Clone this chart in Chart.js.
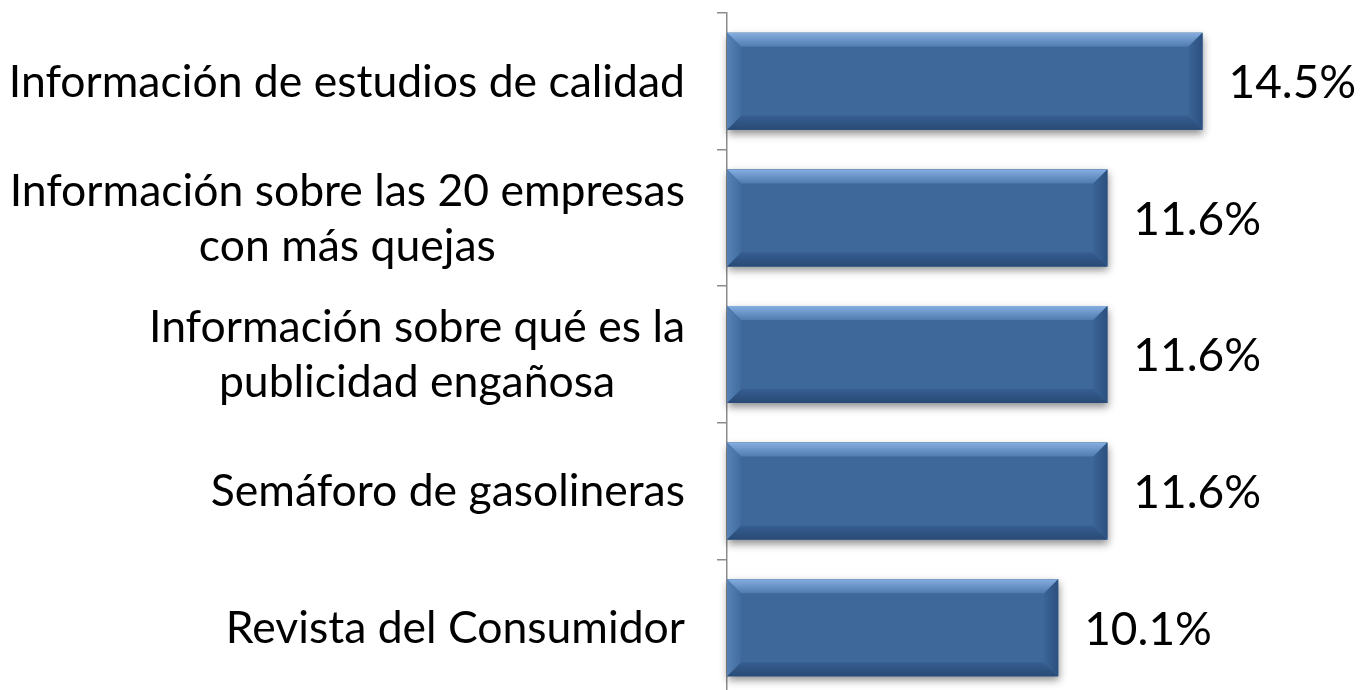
<!DOCTYPE html>
<html>
<head>
<meta charset="utf-8">
<script src="https://cdn.jsdelivr.net/npm/chart.js@4"></script>
<style>
  html, body { margin: 0; padding: 0; background: #fff; overflow: hidden; }
  #wrap { width: 1362px; height: 700px; }
</style>
</head>
<body>
<div id="wrap"><canvas id="chart" width="1362" height="700"></canvas></div>
<script>
/* ===============================
   DATA
================================= */

const categories = [
  ["Información de estudios de calidad"],
  ["Información sobre las 20 empresas", "con más quejas"],
  ["Información sobre qué es la", "publicidad engañosa"],
  ["Semáforo de gasolineras"],
  ["Revista del Consumidor"]
];
const values = [14.5, 11.6, 11.6, 11.6, 10.1];
const valueLabels = ["14.5%", "11.6%", "11.6%", "11.6%", "10.1%"];

const FONT = "Lato, 'Open Sans', sans-serif";

/* ===============================
   PLUGINS
================================= */

// soft shadow under each bar
const barShadow = {
  id: "barShadow",
  beforeDatasetsDraw(chart) {
    const { ctx } = chart;
    const meta = chart.getDatasetMeta(0);
    ctx.save();
    ctx.shadowColor = "rgba(0,0,0,0.45)";
    ctx.shadowBlur = 8;
    ctx.shadowOffsetY = 4;
    ctx.shadowOffsetX = 1;
    ctx.fillStyle = "#3d6899";
    meta.data.forEach(bar => {
      const h = bar.height;
      ctx.fillRect(bar.base, bar.y - h / 2, bar.x - bar.base, h);
    });
    ctx.restore();
  }
};

// bevel edges + value labels
const barBevel = {
  id: "barBevel",
  afterDatasetsDraw(chart) {
    const { ctx } = chart;
    const meta = chart.getDatasetMeta(0);
    const b = 14;
    ctx.save();
    meta.data.forEach((bar, i) => {
      const l = bar.base, r = bar.x;
      const t = bar.y - bar.height / 2, bt = bar.y + bar.height / 2;

      const poly = (pts, fill) => {
        ctx.beginPath();
        ctx.moveTo(pts[0][0], pts[0][1]);
        pts.slice(1).forEach(p => ctx.lineTo(p[0], p[1]));
        ctx.closePath();
        ctx.fillStyle = fill;
        ctx.fill();
      };

      const gTop = ctx.createLinearGradient(0, t, 0, t + b);
      gTop.addColorStop(0, "#86aee0");
      gTop.addColorStop(1, "#4f7bb0");
      poly([[l, t], [r, t], [r - b, t + b], [l + b, t + b]], gTop);

      const gBot = ctx.createLinearGradient(0, bt - b, 0, bt);
      gBot.addColorStop(0, "#365e90");
      gBot.addColorStop(1, "#284a76");
      poly([[l, bt], [r, bt], [r - b, bt - b], [l + b, bt - b]], gBot);

      const gLeft = ctx.createLinearGradient(l, 0, l + b, 0);
      gLeft.addColorStop(0, "#5682b6");
      gLeft.addColorStop(1, "#416ca0");
      poly([[l, t], [l + b, t + b], [l + b, bt - b], [l, bt]], gLeft);

      const gRight = ctx.createLinearGradient(r - b, 0, r, 0);
      gRight.addColorStop(0, "#3a6495");
      gRight.addColorStop(1, "#2c5080");
      poly([[r, t], [r - b, t + b], [r - b, bt - b], [r, bt]], gRight);

      ctx.fillStyle = "#000";
      ctx.font = "46px " + FONT;
      ctx.textAlign = "left";
      ctx.textBaseline = "middle";
      ctx.fillText(valueLabels[i], r + 26, bar.y + 2);
    });
    ctx.restore();
  }
};

// category labels: block right-aligned, lines centered inside block
const categoryLabels = {
  id: "categoryLabels",
  afterDraw(chart) {
    const { ctx } = chart;
    const yScale = chart.scales.y;
    const rightEdge = 685;
    const lineH = 55;
    ctx.save();
    ctx.fillStyle = "#000";
    ctx.font = "44.5px " + FONT;
    ctx.textAlign = "center";
    ctx.textBaseline = "middle";
    categories.forEach((lines, i) => {
      const cy = yScale.getPixelForValue(i);
      const w = Math.max(...lines.map(s => ctx.measureText(s).width));
      const cx = rightEdge - w / 2;
      const y0 = cy - (lines.length - 1) * lineH / 2 + 1;
      lines.forEach((s, k) => ctx.fillText(s, cx, y0 + k * lineH));
    });
    ctx.restore();
  }
};

/* ===============================
   CHART
================================= */

new Chart(document.getElementById("chart"), {
  type: "bar",
  data: {
    labels: categories,
    datasets: [{
      data: values,
      backgroundColor: "#3d6899",
      borderWidth: 0,
      categoryPercentage: 1,
      barPercentage: 0.71
    }]
  },
  options: {
    indexAxis: "y",
    responsive: false,
    animation: false,
    layout: { padding: { top: 13, bottom: 4, left: 0, right: 12 } },
    plugins: {
      legend: { display: false },
      tooltip: { enabled: false }
    },
    scales: {
      x: { display: false, min: 0, max: 19 },
      y: {
        afterFit(scale) { scale.width = 727; },
        ticks: { display: false },
        grid: {
          offset: true,
          drawOnChartArea: false,
          drawTicks: true,
          tickLength: 10,
          color: "#8c8c8c",
          lineWidth: 1.5
        },
        border: { color: "#8c8c8c", width: 1.5 }
      }
    }
  },
  plugins: [barShadow, barBevel, categoryLabels]
});
</script>
</body>
</html>
